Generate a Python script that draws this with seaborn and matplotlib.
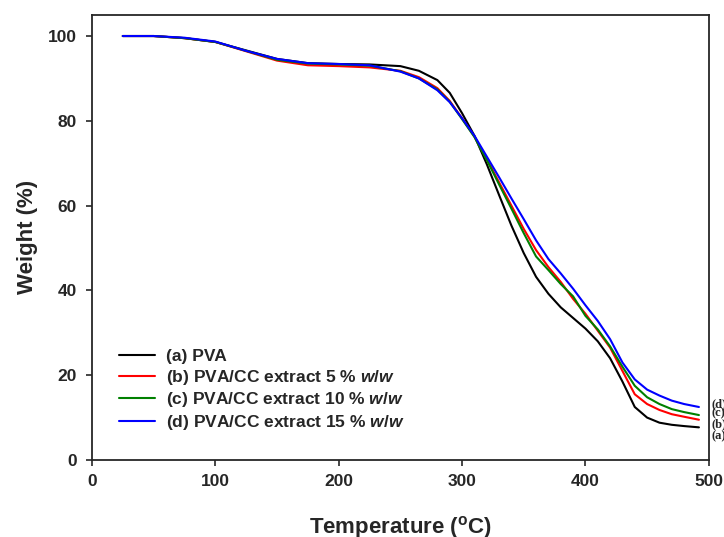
import pandas as pd
import matplotlib
matplotlib.use('Agg')
import matplotlib.pyplot as plt
import seaborn as sns

# TGA data (temperature in C, weight in %)
temperature = [25, 50, 75, 100, 125, 150, 175, 200, 225, 250, 265, 280, 290,
               300, 310, 320, 330, 340, 350, 360, 370, 380, 390, 400, 410,
               420, 430, 440, 450, 460, 470, 480, 492]

pva = [100, 100, 99.5, 98.6, 96.6, 94.6, 93.6, 93.4, 93.3, 92.9, 91.8, 89.6, 86.6,
       81.8, 76.5, 69.8, 62.5, 55.3, 48.8, 43.2, 39.2, 36, 33.5, 31, 28,
       24, 18.5, 12.5, 10, 8.8, 8.3, 8.0, 7.7]
cc5 = [100, 100, 99.5, 98.6, 96.4, 94.2, 93.1, 92.9, 92.6, 91.8, 90.3, 87.7, 84.7,
       80.6, 76.3, 71, 65.5, 60, 54.5, 49.5, 45.5, 42, 38, 34.5, 30.5,
       26.5, 21, 15.5, 13.2, 11.8, 10.8, 10.2, 9.5]
cc10 = [100, 100, 99.5, 98.6, 96.5, 94.4, 93.5, 93.3, 93.0, 91.7, 90, 87.4, 84.5,
        80.4, 76.2, 70.8, 65, 59.3, 53.5, 48, 44.8, 41.5, 38.6, 34, 30.8,
        26.8, 22, 17.5, 14.8, 13.2, 12, 11.3, 10.6]
cc15 = [100, 100, 99.6, 98.7, 96.5, 94.6, 93.6, 93.4, 93.1, 91.6, 90, 87.2, 84.4,
        80.6, 76.5, 71.6, 66.7, 61.7, 56.8, 51.8, 47.4, 44, 40.4, 36.5, 32.8,
        28.5, 23, 19, 16.6, 15.2, 14, 13.2, 12.5]

labels = ['(a) PVA',
          '(b) PVA/CC extract 5 % $w/w$',
          '(c) PVA/CC extract 10 % $w/w$',
          '(d) PVA/CC extract 15 % $w/w$']
end_tags = ['(a)', '(b)', '(c)', '(d)']
colors = ['black', 'red', 'green', 'blue']

rows = []
for lab, vals in zip(labels, [pva, cc5, cc10, cc15]):
    for t, w in zip(temperature, vals):
        rows.append({'Temperature': t, 'Weight': w, 'Sample': lab})
df = pd.DataFrame(rows)

sns.set_style('ticks')
plt.rcParams['font.family'] = ['Liberation Sans', 'DejaVu Sans']
plt.rcParams['font.weight'] = 'bold'
plt.rcParams['mathtext.fontset'] = 'custom'
plt.rcParams['mathtext.it'] = 'Liberation Sans:bold:italic'
plt.rcParams['mathtext.rm'] = 'Liberation Sans:bold'
plt.rcParams['mathtext.bf'] = 'Liberation Sans:bold'

fig = plt.figure(figsize=(7.24, 5.37), dpi=100)
ax = fig.add_axes([0.127, 0.1434, 0.852, 0.829])

sns.lineplot(data=df, x='Temperature', y='Weight', hue='Sample',
             palette=colors, linewidth=1.5, ax=ax)

ax.set_xlim(0, 500)
ax.set_ylim(0, 105)
ax.set_xticks([0, 100, 200, 300, 400, 500])
ax.set_yticks([0, 20, 40, 60, 80, 100])
ax.tick_params(direction='out', length=4, width=1.2, labelsize=12.5)
ax.tick_params(axis='y', pad=7)
ax.tick_params(axis='x', pad=6)
for lbl in ax.get_xticklabels() + ax.get_yticklabels():
    lbl.set_fontweight('bold')
for s in ax.spines.values():
    s.set_linewidth(1.3)

ax.set_xlabel(r'Temperature ($^{\rm o}$C)', fontsize=16, fontweight='bold', labelpad=18)
ax.set_ylabel('Weight (%)', fontsize=16, fontweight='bold')
ax.yaxis.set_label_coords(-0.088, 0.5)

leg = ax.legend(loc='lower left', bbox_to_anchor=(0.018, 0.028), frameon=False,
                handlelength=2.1, handletextpad=0.6, labelspacing=0.2,
                prop={'weight': 'bold', 'size': 12.5})
for line in leg.get_lines():
    line.set_linewidth(1.5)

# little tags at the right end of each curve
tag_y = [5.7, 8.5, 11.1, 13.2]
for tag, y in zip(end_tags, tag_y):
    ax.text(502, y, tag, fontsize=9, fontweight='bold', family='Liberation Serif',
            va='center', ha='left', clip_on=False)

fig.savefig('out.png', dpi=100)
